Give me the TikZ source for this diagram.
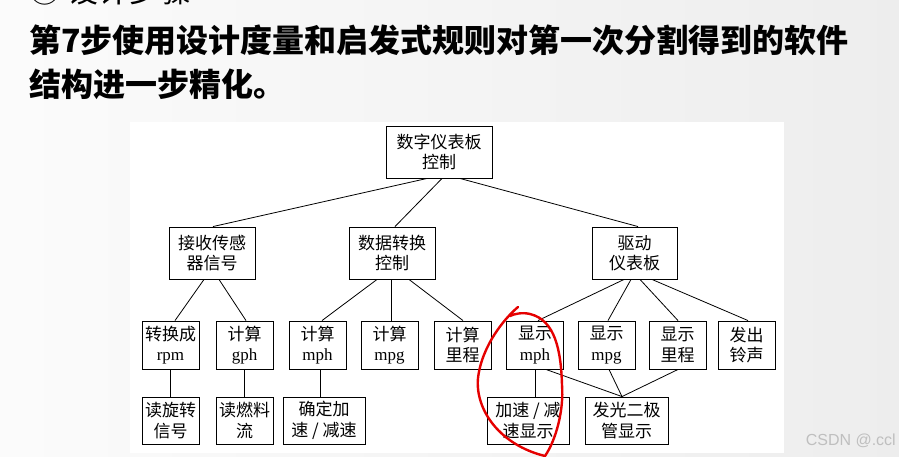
\documentclass[tikz,border=0pt]{standalone}
\usepackage{fontspec}
\setmainfont{Liberation Serif}
\newfontfamily\cjk{Noto Sans CJK SC}
\newfontfamily\wm{Liberation Sans}
\usetikzlibrary{calc}
\begin{document}
\begin{tikzpicture}[x=1pt,y=-1pt,
  box/.style={draw,line width=0.9pt,inner sep=0pt,align=center,
    font=\fontsize{17}{20.5}\selectfont\cjk},
  lvtwo/.style={box,minimum height=52pt},
  lvthree/.style={box,minimum width=57pt,minimum height=48pt},
  lvfour/.style={box,minimum height=47pt},
  link/.style={line width=0.8pt}]
\newcommand{\lt}[1]{{\rmfamily #1}}
\useasboundingbox (0,0) rectangle (899,456);
\clip (0,0) rectangle (899,456);
\shade[left color=gray!3,right color=gray!14] (0,0) rectangle (899,456);
\fill[white] (130,122) rectangle (784,453);
% title
\node[anchor=west,inner sep=0pt,font=\fontsize{31}{31}\selectfont\cjk] (pre) at (29,-9) {① 设计步骤};
\node[anchor=west,inner sep=0pt,font=\fontsize{32}{32}\selectfont\cjk\bfseries] (t1) at (29,40) {第7步使用设计度量和启发式规则对第一次分割得到的软件};
\node[anchor=west,inner sep=0pt,font=\fontsize{32}{32}\selectfont\cjk\bfseries] (t2) at (29,84) {结构进一步精化。};
% nodes
\node[box,minimum width=106pt,minimum height=52pt] (root) at (439,152) {数字仪表板\\控制};
\node[lvtwo,minimum width=86pt] (rec) at (212,253) {接收传感\\器信号};
\node[lvtwo,minimum width=86pt] (data) at (392,253) {数据转换\\控制};
\node[lvtwo,minimum width=85pt] (drive) at (634.5,253) {驱动\\仪表板};
\node[lvthree] (rpm) at (170.5,345) {转换成\\\lt{rpm}};
\node[lvthree] (gph) at (244.5,345) {计算\\\lt{gph}};
\node[lvthree] (cmph) at (317.5,345) {计算\\\lt{mph}};
\node[lvthree] (cmpg) at (389.5,345) {计算\\\lt{mpg}};
\node[lvthree] (cmil) at (462.5,345) {计算\\里程};
\node[lvthree] (dmph) at (535,345) {显示\\\lt{mph}};
\node[lvthree] (dmpg) at (606.5,345) {显示\\\lt{mpg}};
\node[lvthree] (dmil) at (677.5,345) {显示\\里程};
\node[lvthree] (bell) at (746.5,345) {发出\\铃声};
\node[lvfour,minimum width=57pt] (rread) at (170.5,420.5) {读旋转\\信号};
\node[lvfour,minimum width=57pt] (fuel) at (244.5,420.5) {读燃料\\流};
\node[lvfour,minimum width=82pt] (accel) at (324,420.5) {确定加\\速 / 减速};
\node[lvfour,minimum width=82pt] (adisp) at (528,420.5) {加速 / 减\\速显示};
\node[lvfour,minimum width=83pt] (led) at (626.5,420.5) {发光二极\\管显示};
% links
\draw[link] ([xshift=-12pt]root.south) -- ([xshift=1pt]rec.north);
\draw[link] ([xshift=3pt]root.south) -- ([xshift=3pt]data.north);
\draw[link] ([xshift=21pt]root.south) -- ([xshift=3.5pt]drive.north);
\draw[link] ([xshift=-8pt]rec.south) -- ([xshift=4.5pt]rpm.north);
\draw[link] ([xshift=7pt]rec.south) -- ([xshift=1.5pt]gph.north);
\draw[link] ([xshift=-15pt]data.south) -- ([xshift=4.5pt]cmph.north);
\draw[link] ([xshift=-1pt]data.south) -- ([xshift=1.5pt]cmpg.north);
\draw[link] ([xshift=17pt]data.south) -- ([xshift=0.5pt]cmil.north);
\draw[link] ([xshift=-10.5pt]drive.south) -- ([xshift=3pt]dmph.north);
\draw[link] ([xshift=-3.5pt]drive.south) -- ([xshift=1.5pt]dmpg.north);
\draw[link] ([xshift=5.5pt]drive.south) -- ([xshift=0.5pt]dmil.north);
\draw[link] ([xshift=17.5pt]drive.south) -- ([xshift=1.5pt]bell.north);
\draw[link] (rpm.south) -- (rread.north);
\draw[link] (gph.south) -- (fuel.north);
\draw[link] ([xshift=2.5pt]cmph.south) -- ([xshift=2.5pt]cmph.south |- accel.north);
\draw[link] (dmph.south) -- (dmph.south |- adisp.north);
\draw[link] ([xshift=11pt]dmph.south) -- ([xshift=-4.5pt]led.north);
\draw[link] ([xshift=2.5pt]dmpg.south) -- ([xshift=-4.5pt]led.north);
\draw[link] ([xshift=0.5pt]dmil.south) -- ([xshift=-4.5pt]led.north);
% red hand-drawn loop
\coordinate (rs) at (518,307);
\draw[red!90!black,line width=2.4pt,line cap=round,line join=round]
  (rs) .. controls (505,318) and (482,345) .. (478,378)
  .. controls (475,410) and (500,445) .. (545,456)
  .. controls (556,440) and (564,410) .. (562,385)
  .. controls (561,350) and (555,320) .. (530,314)
  .. controls (522,312) and (514,314) .. (510,316);
% watermark
\node[anchor=east,inner sep=0pt,text=gray!50,font=\fontsize{16}{16}\selectfont\wm] (wmk) at (896,441) {CSDN @.ccl};
\end{tikzpicture}
\end{document}
